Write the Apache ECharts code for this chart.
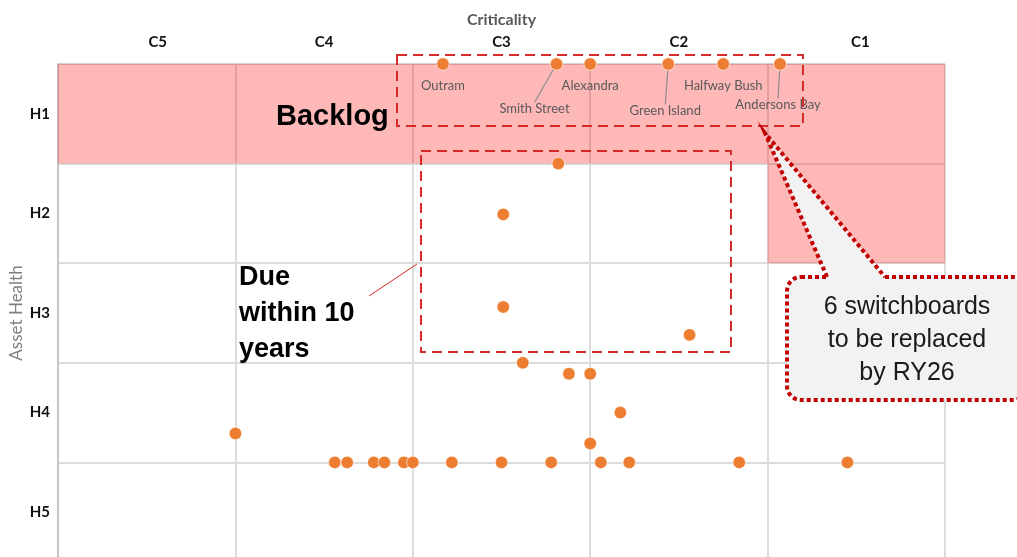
<!DOCTYPE html>
<html>
<head>
<meta charset="utf-8">
<script src="https://cdn.jsdelivr.net/npm/echarts@6/dist/echarts.min.js"></script>
<style>html,body{margin:0;padding:0;background:#fff;}#c{width:1017px;height:557px;}</style>
</head>
<body>
<div id="c"></div>
<script>
// Criticality (x) categories and asset health (y) categories
const criticality = ['C5', 'C4', 'C3', 'C2', 'C1'];
const assetHealth = ['H1', 'H2', 'H3', 'H4', 'H5'];

// Named switchboards (backlog)
const namedSites = ['Outram', 'Smith Street', 'Alexandra', 'Green Island', 'Halfway Bush', 'Andersons Bay'];
const namedX = [2.17, 2.81, 3.0, 3.44, 3.75, 4.07];
const namedY = [0, 0, 0, 0, 0, 0];

// Other switchboards
const otherX = [2.82, 2.51, 2.51, 3.56, 2.62, 2.88, 3.0, 3.17, 3.0, 1.0,
  1.56, 1.63, 1.78, 1.84, 1.95, 2.0, 2.22, 2.5, 2.78, 3.06, 3.22, 3.84, 4.45];
const otherY = [1.0, 1.51, 2.44, 2.72, 3.0, 3.11, 3.11, 3.5, 3.81, 3.71,
  4, 4, 4, 4, 4, 4, 4, 4, 4, 4, 4, 4, 4];

// Label offsets for the named sites (dx, dy), and whether a leader line is drawn
const labelDx = [0, -22, 0, -3, 0, -2];
const labelDy = [0, 23, 0, 25, 0, 19];
const leader = [false, true, false, true, false, true];

const orange = '#ED7D31';
const gridColor = '#dcdcdc';
const red = '#d42a2a';
const FONT = 'Lato, "Noto Sans", sans-serif';
const ARIAL = '"Liberation Sans", Arial, sans-serif';

const chart = echarts.init(document.getElementById('c'), null, { renderer: 'canvas' });

const namedData = namedSites.map((n, i) => ({
  name: n,
  value: [namedX[i], namedY[i]],
  labelLine: { show: leader[i] }
}));
const otherData = otherX.map((x, i) => [x, otherY[i]]);

const catLabelStyle = { color: '#111', fontWeight: 'bold', fontSize: 15, fontFamily: FONT };

const option = {
  animation: false,
  backgroundColor: '#fff',
  grid: { left: 58, right: 72, top: 64, bottom: -5, containLabel: false, outerBoundsMode: 'none' },
  xAxis: [
    {
      type: 'value', min: 0, max: 5, interval: 1, position: 'top',
      axisLabel: { show: false }, axisTick: { show: false },
      axisLine: { show: false },
      splitLine: { show: true, lineStyle: { color: gridColor, width: 2 } }
    },
    {
      type: 'category', data: criticality, position: 'top', boundaryGap: true,
      axisLine: { show: false }, axisTick: { show: false }, splitLine: { show: false },
      axisLabel: {
        margin: 14,
        formatter: v => v === 'C5' ? '{l|' + v + '}' : (v === 'C1' ? '{r|' + v + '}' : '{n|' + v + '}'),
        rich: {
          n: catLabelStyle,
          l: Object.assign({ padding: [0, 0, 0, 22] }, catLabelStyle),
          r: Object.assign({ padding: [0, 0, 0, 8] }, catLabelStyle)
        }
      },
      name: 'Criticality', nameLocation: 'middle', nameGap: 36,
      nameTextStyle: { color: '#595959', fontWeight: 'bold', fontSize: 16, fontFamily: FONT }
    }
  ],
  yAxis: [
    {
      type: 'value', min: 0, max: 5, interval: 1, inverse: true, position: 'right',
      axisLabel: { show: false }, axisTick: { show: false },
      axisLine: { show: true, lineStyle: { color: '#c4c4c4', width: 2 } },
      splitLine: { show: true, lineStyle: { color: gridColor, width: 2 } }
    },
    {
      type: 'category', data: assetHealth, inverse: true, position: 'left', boundaryGap: true,
      axisLine: { show: false }, axisTick: { show: false }, splitLine: { show: false },
      axisLabel: Object.assign({ margin: 8 }, catLabelStyle),
      name: 'Asset Health', nameLocation: 'middle', nameGap: 33, nameRotate: 90,
      nameMoveOverlap: false,
      nameTextStyle: { color: '#808080', fontSize: 17, fontFamily: FONT }
    }
  ],
  series: [
    {
      type: 'scatter', xAxisIndex: 0, yAxisIndex: 0, z: 2,
      symbolSize: 12.5,
      itemStyle: { color: orange, borderColor: '#fff', borderWidth: 0.6, opacity: 1 },
      data: otherData
    },
    {
      type: 'scatter', xAxisIndex: 0, yAxisIndex: 0, z: 2,
      symbolSize: 12.5,
      itemStyle: { color: orange, borderColor: '#fff', borderWidth: 0.6, opacity: 1 },
      label: {
        show: true, position: 'bottom', distance: 9,
        formatter: p => p.name,
        color: '#595959', fontSize: 13, fontFamily: FONT
      },
      labelLine: { show: false, lineStyle: { color: '#8c8c8c', width: 1.2 } },
      labelLayout: function (params) {
        const i = params.dataIndex;
        return { dx: labelDx[i], dy: labelDy[i] };
      },
      data: namedData
    },
    {
      type: 'scatter', xAxisIndex: 0, yAxisIndex: 0, zlevel: 1, z: 5, silent: true,
      data: [],
      markArea: {
        silent: true,
        itemStyle: { color: 'rgba(255,0,0,0.28)', borderWidth: 0 },
        data: [
          [{ coord: [0, 0] }, { coord: [5, 1] }],
          [{ coord: [4, 1] }, { coord: [5, 2] }]
        ]
      }
    }
  ],
  graphic: [
    { type: 'line', z: 1, shape: { x1: 58, y1: 64, x2: 945, y2: 64 }, style: { stroke: '#d2d2d2', lineWidth: 2 } },
    { type: 'rect', zlevel: 2, z: 100, shape: { x: 397, y: 55, width: 406, height: 71 },
      style: { fill: 'none', stroke: red, lineWidth: 2, lineDash: [10, 6] } },
    { type: 'rect', zlevel: 2, z: 100, shape: { x: 421, y: 151, width: 310, height: 201 },
      style: { fill: 'none', stroke: red, lineWidth: 2, lineDash: [10, 6] } },
    { type: 'line', zlevel: 2, z: 100, shape: { x1: 369, y1: 296, x2: 417, y2: 264 }, style: { stroke: red, lineWidth: 1 } },
    { type: 'text', zlevel: 2, z: 100, x: 276, y: 117,
      style: { text: 'Backlog', fill: '#000', fontSize: 29, fontWeight: 'bold', fontFamily: ARIAL, verticalAlign: 'middle', align: 'left' } },
    { type: 'text', zlevel: 2, z: 100, x: 239, y: 260,
      style: { text: 'Due\nwithin 10\nyears', fill: '#000', fontSize: 27, fontWeight: 'bold', fontFamily: ARIAL, lineHeight: 36, verticalAlign: 'top', align: 'left' } },
    // callout box
    { type: 'rect', zlevel: 2, z: 100, shape: { x: 787, y: 277, width: 240, height: 123, r: 14 },
      style: { fill: '#f2f2f2', stroke: '#c00000', lineWidth: 4, lineDash: [4, 3] } },
    { type: 'polygon', zlevel: 2, z: 101, shape: { points: [[765, 133], [885, 277], [885, 283], [827, 283], [827, 277]] },
      style: { fill: '#f2f2f2', stroke: 'none' } },
    { type: 'polyline', zlevel: 2, z: 102, shape: { points: [[827, 277], [765, 133], [885, 277]] },
      style: { fill: 'none', stroke: '#c00000', lineWidth: 4, lineDash: [4, 3] } },
    { type: 'text', zlevel: 2, z: 103, x: 907, y: 291,
      style: { text: '6 switchboards\nto be replaced\nby RY26', fill: '#1a1a1a', fontSize: 25, fontFamily: ARIAL, lineHeight: 33, align: 'center', verticalAlign: 'top' } }
  ]
};
chart.setOption(option);
</script>
</body>
</html>
